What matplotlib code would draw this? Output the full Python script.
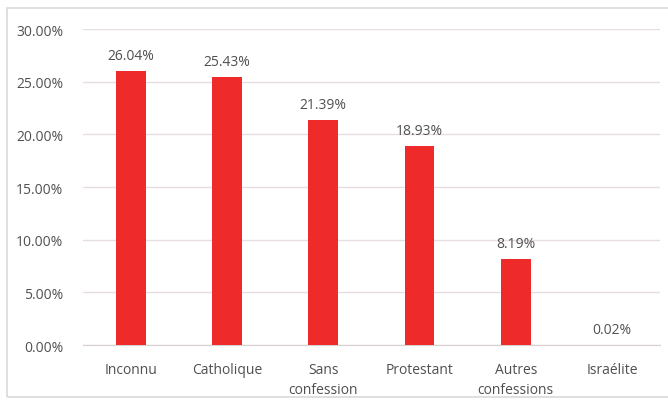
import matplotlib.pyplot as plt
from matplotlib.patches import Rectangle
import numpy as np

categories = ['Inconnu', 'Catholique', 'Sans\nconfession', 'Protestant', 'Autres\nconfessions', 'Israélite']
shares = [26.04, 25.43, 21.39, 18.93, 8.19, 0.02]
yticks = [0, 5, 10, 15, 20, 25, 30]

plt.rcParams['font.family'] = ['Open Sans', 'DejaVu Sans']
txt = '#505050'

fig = plt.figure(figsize=(6.68, 4.02), dpi=100)
ax = fig.add_axes([0.124, 0.139, 0.864, 0.786])

# light frame around the chart area
fig.patches.append(Rectangle((7 / 668, 0.01), 1.0, 1 - 9 / 402 - 0.01,
                             transform=fig.transFigure, fill=False,
                             edgecolor='#d9d9d9', linewidth=1.2))

x = np.arange(len(categories))
bars = ax.bar(x, shares, width=0.31, color='#ee2a2a', zorder=3)
for b, v in zip(bars, shares):
    ax.text(b.get_x() + b.get_width() / 2, v + 0.75, f'{v:.2f}%',
            ha='center', va='bottom', fontsize=10, color=txt)

ax.set_xlim(-0.5, len(categories) - 0.5)
ax.set_ylim(0, 30)
ax.set_yticks(yticks)
ax.set_yticklabels([f'{t:.2f}%' for t in yticks], fontsize=10, color=txt)
ax.set_xticks(x)
ax.set_xticklabels(categories, fontsize=10, color=txt, linespacing=1.45)
ax.tick_params(length=0)
ax.tick_params(axis='x', pad=12)
ax.tick_params(axis='y', pad=14)
ax.yaxis.grid(True, color='#e6dede', linewidth=1, zorder=0)
for s in ['top', 'right', 'left']:
    ax.spines[s].set_visible(False)
ax.spines['bottom'].set_color('#d9d0d0')

fig.savefig('out.png', dpi=100)
